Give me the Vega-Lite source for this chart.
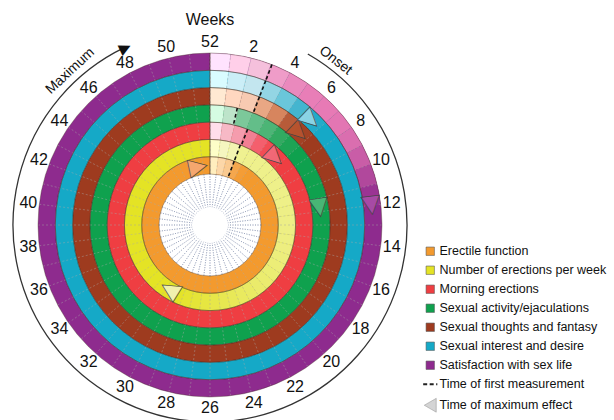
{
  "$schema": "https://vega.github.io/schema/vega-lite/v6.json",
  "width": 420,
  "height": 450,
  "padding": 0,
  "autosize": {"type": "pad"},
  "config": {"view": {"stroke": null}, "font": "Liberation Sans", "text": {"font": "Liberation Sans"}},
  "datasets": {
    "series": [
      {"s": "Erectile function", "ri": 0, "ro": 1},
      {"s": "Number of erections per week", "ri": 1, "ro": 2},
      {"s": "Morning erections", "ri": 2, "ro": 3},
      {"s": "Sexual activity/ejaculations", "ri": 3, "ro": 4},
      {"s": "Sexual thoughts and fantasy", "ri": 4, "ro": 5},
      {"s": "Sexual interest and desire", "ri": 5, "ro": 6},
      {"s": "Satisfaction with sex life", "ri": 6, "ro": 7}
    ],
    "seg": [
      {"s": "Satisfaction with sex life", "w0": 0, "w1": 1, "e": 0.06},
      {"s": "Satisfaction with sex life", "w0": 1, "w1": 2, "e": 0.15},
      {"s": "Satisfaction with sex life", "w0": 2, "w1": 3, "e": 0.22},
      {"s": "Satisfaction with sex life", "w0": 3, "w1": 4, "e": 0.42},
      {"s": "Satisfaction with sex life", "w0": 4, "w1": 5, "e": 0.52},
      {"s": "Satisfaction with sex life", "w0": 5, "w1": 6, "e": 0.58},
      {"s": "Satisfaction with sex life", "w0": 6, "w1": 7, "e": 0.6},
      {"s": "Satisfaction with sex life", "w0": 7, "w1": 8, "e": 0.62},
      {"s": "Satisfaction with sex life", "w0": 8, "w1": 9, "e": 0.66},
      {"s": "Satisfaction with sex life", "w0": 9, "w1": 10, "e": 0.74},
      {"s": "Satisfaction with sex life", "w0": 10, "w1": 11, "e": 0.85},
      {"s": "Satisfaction with sex life", "w0": 11, "w1": 12, "e": 0.95},
      {"s": "Sexual interest and desire", "w0": 0, "w1": 1, "e": 0.06},
      {"s": "Sexual interest and desire", "w0": 1, "w1": 2, "e": 0.15},
      {"s": "Sexual interest and desire", "w0": 2, "w1": 3, "e": 0.2},
      {"s": "Sexual interest and desire", "w0": 3, "w1": 4, "e": 0.45},
      {"s": "Sexual interest and desire", "w0": 4, "w1": 5, "e": 0.65},
      {"s": "Sexual interest and desire", "w0": 5, "w1": 6, "e": 0.85},
      {"s": "Sexual interest and desire", "w0": 6, "w1": 7, "e": 0.97},
      {"s": "Sexual thoughts and fantasy", "w0": 0, "w1": 1, "e": 0.06},
      {"s": "Sexual thoughts and fantasy", "w0": 1, "w1": 2, "e": 0.15},
      {"s": "Sexual thoughts and fantasy", "w0": 2, "w1": 3, "e": 0.22},
      {"s": "Sexual thoughts and fantasy", "w0": 3, "w1": 4, "e": 0.45},
      {"s": "Sexual thoughts and fantasy", "w0": 4, "w1": 5, "e": 0.65},
      {"s": "Sexual thoughts and fantasy", "w0": 5, "w1": 6, "e": 0.85},
      {"s": "Sexual thoughts and fantasy", "w0": 6, "w1": 7, "e": 0.97},
      {"s": "Sexual activity/ejaculations", "w0": 0, "w1": 1, "e": 0.06},
      {"s": "Sexual activity/ejaculations", "w0": 1, "w1": 2, "e": 0.18},
      {"s": "Sexual activity/ejaculations", "w0": 2, "w1": 3, "e": 0.5},
      {"s": "Sexual activity/ejaculations", "w0": 3, "w1": 4, "e": 0.62},
      {"s": "Sexual activity/ejaculations", "w0": 4, "w1": 5, "e": 0.75},
      {"s": "Sexual activity/ejaculations", "w0": 5, "w1": 6, "e": 0.88},
      {"s": "Sexual activity/ejaculations", "w0": 6, "w1": 7, "e": 0.96},
      {"s": "Morning erections", "w0": 0, "w1": 1, "e": 0.06},
      {"s": "Morning erections", "w0": 1, "w1": 2, "e": 0.2},
      {"s": "Morning erections", "w0": 2, "w1": 3, "e": 0.4},
      {"s": "Morning erections", "w0": 3, "w1": 4, "e": 0.6},
      {"s": "Morning erections", "w0": 4, "w1": 5, "e": 0.8},
      {"s": "Morning erections", "w0": 5, "w1": 6, "e": 0.92},
      {"s": "Morning erections", "w0": 6, "w1": 7, "e": 0.98},
      {"s": "Number of erections per week", "w0": 0, "w1": 1, "e": 0.06},
      {"s": "Number of erections per week", "w0": 1, "w1": 2, "e": 0.18},
      {"s": "Number of erections per week", "w0": 2, "w1": 3, "e": 0.3},
      {"s": "Number of erections per week", "w0": 3, "w1": 4, "e": 0.55},
      {"s": "Number of erections per week", "w0": 4, "w1": 5, "e": 0.57},
      {"s": "Number of erections per week", "w0": 5, "w1": 6, "e": 0.58},
      {"s": "Number of erections per week", "w0": 6, "w1": 7, "e": 0.59},
      {"s": "Number of erections per week", "w0": 7, "w1": 8, "e": 0.6},
      {"s": "Number of erections per week", "w0": 8, "w1": 9, "e": 0.6},
      {"s": "Number of erections per week", "w0": 9, "w1": 10, "e": 0.61},
      {"s": "Number of erections per week", "w0": 10, "w1": 11, "e": 0.61},
      {"s": "Number of erections per week", "w0": 11, "w1": 12, "e": 0.62},
      {"s": "Number of erections per week", "w0": 12, "w1": 13, "e": 0.62},
      {"s": "Number of erections per week", "w0": 13, "w1": 14, "e": 0.63},
      {"s": "Number of erections per week", "w0": 14, "w1": 15, "e": 0.64},
      {"s": "Number of erections per week", "w0": 15, "w1": 16, "e": 0.65},
      {"s": "Number of erections per week", "w0": 16, "w1": 17, "e": 0.67},
      {"s": "Number of erections per week", "w0": 17, "w1": 18, "e": 0.69},
      {"s": "Number of erections per week", "w0": 18, "w1": 19, "e": 0.71},
      {"s": "Number of erections per week", "w0": 19, "w1": 20, "e": 0.73},
      {"s": "Number of erections per week", "w0": 20, "w1": 21, "e": 0.75},
      {"s": "Number of erections per week", "w0": 21, "w1": 22, "e": 0.78},
      {"s": "Number of erections per week", "w0": 22, "w1": 23, "e": 0.8},
      {"s": "Number of erections per week", "w0": 23, "w1": 24, "e": 0.83},
      {"s": "Number of erections per week", "w0": 24, "w1": 25, "e": 0.86},
      {"s": "Number of erections per week", "w0": 25, "w1": 26, "e": 0.89},
      {"s": "Number of erections per week", "w0": 26, "w1": 27, "e": 0.92},
      {"s": "Number of erections per week", "w0": 27, "w1": 28, "e": 0.95},
      {"s": "Number of erections per week", "w0": 28, "w1": 29, "e": 0.97},
      {"s": "Number of erections per week", "w0": 29, "w1": 30, "e": 0.99},
      {"s": "Erectile function", "w0": 0, "w1": 1, "e": 0.06},
      {"s": "Erectile function", "w0": 1, "w1": 2, "e": 0.2},
      {"s": "Erectile function", "w0": 2, "w1": 3, "e": 0.35},
      {"s": "Erectile function", "w0": 3, "w1": 4, "e": 0.8},
      {"s": "Erectile function", "w0": 4, "w1": 5, "e": 0.95}
    ],
    "meas": [
      {"s": "Erectile function", "fm": 3},
      {"s": "Number of erections per week", "fm": 3},
      {"s": "Morning erections", "fm": 3.1},
      {"s": "Sexual activity/ejaculations", "fm": 1.9},
      {"s": "Sexual thoughts and fantasy", "fm": 3.05},
      {"s": "Sexual interest and desire", "fm": 3.05},
      {"s": "Satisfaction with sex life", "fm": 3.05}
    ],
    "maxe": [
      {"s": "Erectile function", "mx": 50.3},
      {"s": "Number of erections per week", "mx": 30.6},
      {"s": "Morning erections", "mx": 6.3},
      {"s": "Sexual activity/ejaculations", "mx": 11.7},
      {"s": "Sexual thoughts and fantasy", "mx": 6.3},
      {"s": "Sexual interest and desire", "mx": 6.3},
      {"s": "Satisfaction with sex life", "mx": 12.0}
    ],
    "weeks": [
      {"w": 0, "label": "52"}, {"w": 1}, {"w": 2, "label": "2"}, {"w": 3}, {"w": 4, "label": "4"}, {"w": 5},
      {"w": 6, "label": "6"}, {"w": 7}, {"w": 8, "label": "8"}, {"w": 9}, {"w": 10, "label": "10"}, {"w": 11},
      {"w": 12, "label": "12"}, {"w": 13}, {"w": 14, "label": "14"}, {"w": 15}, {"w": 16, "label": "16"}, {"w": 17},
      {"w": 18, "label": "18"}, {"w": 19}, {"w": 20, "label": "20"}, {"w": 21}, {"w": 22, "label": "22"}, {"w": 23},
      {"w": 24, "label": "24"}, {"w": 25}, {"w": 26, "label": "26"}, {"w": 27}, {"w": 28, "label": "28"}, {"w": 29},
      {"w": 30, "label": "30"}, {"w": 31}, {"w": 32, "label": "32"}, {"w": 33}, {"w": 34, "label": "34"}, {"w": 35},
      {"w": 36, "label": "36"}, {"w": 37}, {"w": 38, "label": "38"}, {"w": 39}, {"w": 40, "label": "40"}, {"w": 41},
      {"w": 42, "label": "42"}, {"w": 43}, {"w": 44, "label": "44"}, {"w": 45}, {"w": 46, "label": "46"}, {"w": 47},
      {"w": 48, "label": "48"}, {"w": 49}, {"w": 50, "label": "50"}, {"w": 51}
    ]
  },
  "resolve": {"scale": {"fill": "independent"}},
  "layer": [
    {
      "data": {"name": "weeks"},
      "mark": {"type": "arc", "filled": false, "stroke": "#8f9bb5", "strokeWidth": 0.8, "strokeDash": [1, 1.5], "strokeOpacity": 0.8},
      "encoding": {
        "theta": {"field": "w", "type": "quantitative", "stack": null, "scale": {"type": "linear", "domain": [0, 52], "range": [0, 6.283185307], "nice": false, "zero": true}},
        "theta2": {"field": "w"},
        "radius": {"value": 18},
        "radius2": {"value": 51}
      }
    },
    {
      "data": {"name": "series"},
      "mark": {"type": "arc"},
      "encoding": {
        "theta": {"datum": 0, "type": "quantitative", "stack": null, "scale": {"type": "linear", "domain": [0, 52], "range": [0, 6.283185307], "nice": false, "zero": true}},
        "theta2": {"datum": 52},
        "radius": {"field": "ri", "type": "quantitative", "scale": {"type": "linear", "domain": [0, 7], "range": [51, 172], "nice": false, "zero": false}},
        "radius2": {"field": "ro"},
        "color": {
          "field": "s", "type": "nominal",
          "scale": {
            "domain": ["Erectile function", "Number of erections per week", "Morning erections", "Sexual activity/ejaculations", "Sexual thoughts and fantasy", "Sexual interest and desire", "Satisfaction with sex life", "Time of first measurement", "Time of maximum effect"],
            "range": ["#f39a2e", "#e4e325", "#ef3e42", "#0fa14e", "#9e3b1f", "#15a9c7", "#8e2b8e", "#222222", "#d4d4d4"]
          },
          "legend": {
            "orient": "none", "legendX": 424, "legendY": 245, "title": null,
            "symbolType": "square", "symbolSize": 70, "labelFontSize": 12.5, "labelFont": "Liberation Sans",
            "labelColor": "#111111", "rowPadding": 6, "labelOffset": 3, "labelLimit": 300, "padding": 0,
            "symbolStrokeColor": "#555555", "symbolStrokeWidth": 0.6,
            "encode": {
              "symbols": {
                "update": {
                  "shape": {"signal": "datum.value === 'Time of first measurement' ? 'stroke' : datum.value === 'Time of maximum effect' ? 'triangle-left' : 'square'"},
                  "stroke": {"signal": "datum.value === 'Time of first measurement' ? '#222222' : datum.value === 'Time of maximum effect' ? '#999999' : '#555555'"},
                  "strokeDash": {"signal": "datum.value === 'Time of first measurement' ? [4, 2.5] : [1, 0]"},
                  "strokeWidth": {"signal": "datum.value === 'Time of first measurement' ? 1.8 : 0.6"},
                  "size": {"signal": "datum.value === 'Time of maximum effect' ? 190 : datum.value === 'Time of first measurement' ? 200 : 70"}
                }
              }
            }
          }
        }
      }
    },
    {
      "data": {"name": "seg"},
      "transform": [{"filter": "datum.s === 'Satisfaction with sex life'"}, {"lookup": "s", "from": {"data": {"name": "series"}, "key": "s", "fields": ["ri", "ro"]}}],
      "mark": {"type": "arc"},
      "encoding": {
        "theta": {"field": "w0", "type": "quantitative", "stack": null, "scale": {"type": "linear", "domain": [0, 52], "range": [0, 6.283185307], "nice": false, "zero": true}},
        "theta2": {"field": "w1"},
        "radius": {"field": "ri", "type": "quantitative", "scale": {"type": "linear", "domain": [0, 7], "range": [51, 172], "nice": false, "zero": false}},
        "radius2": {"field": "ro"},
        "fill": {"field": "e", "type": "quantitative", "legend": null, "scale": {"domain": [0, 0.2, 0.6, 1], "range": ["#ffffff", "#f6c4de", "#e77ab5", "#8e2b8e"]}}
      }
    },
    {
      "data": {"name": "seg"},
      "transform": [{"filter": "datum.s === 'Sexual interest and desire'"}, {"lookup": "s", "from": {"data": {"name": "series"}, "key": "s", "fields": ["ri", "ro"]}}],
      "mark": {"type": "arc"},
      "encoding": {
        "theta": {"field": "w0", "type": "quantitative", "stack": null, "scale": {"type": "linear", "domain": [0, 52], "range": [0, 6.283185307], "nice": false, "zero": true}},
        "theta2": {"field": "w1"},
        "radius": {"field": "ri", "type": "quantitative", "scale": {"type": "linear", "domain": [0, 7], "range": [51, 172], "nice": false, "zero": false}},
        "radius2": {"field": "ro"},
        "fill": {"field": "e", "type": "quantitative", "legend": null, "scale": {"domain": [0, 0.2, 0.6, 1], "range": ["#ffffff", "#c3e6ef", "#72cadd", "#15a9c7"]}}
      }
    },
    {
      "data": {"name": "seg"},
      "transform": [{"filter": "datum.s === 'Sexual thoughts and fantasy'"}, {"lookup": "s", "from": {"data": {"name": "series"}, "key": "s", "fields": ["ri", "ro"]}}],
      "mark": {"type": "arc"},
      "encoding": {
        "theta": {"field": "w0", "type": "quantitative", "stack": null, "scale": {"type": "linear", "domain": [0, 52], "range": [0, 6.283185307], "nice": false, "zero": true}},
        "theta2": {"field": "w1"},
        "radius": {"field": "ri", "type": "quantitative", "scale": {"type": "linear", "domain": [0, 7], "range": [51, 172], "nice": false, "zero": false}},
        "radius2": {"field": "ro"},
        "fill": {"field": "e", "type": "quantitative", "legend": null, "scale": {"domain": [0, 0.2, 0.6, 1], "range": ["#ffffff", "#f8cdb6", "#df9068", "#9e3b1f"]}}
      }
    },
    {
      "data": {"name": "seg"},
      "transform": [{"filter": "datum.s === 'Sexual activity/ejaculations'"}, {"lookup": "s", "from": {"data": {"name": "series"}, "key": "s", "fields": ["ri", "ro"]}}],
      "mark": {"type": "arc"},
      "encoding": {
        "theta": {"field": "w0", "type": "quantitative", "stack": null, "scale": {"type": "linear", "domain": [0, 52], "range": [0, 6.283185307], "nice": false, "zero": true}},
        "theta2": {"field": "w1"},
        "radius": {"field": "ri", "type": "quantitative", "scale": {"type": "linear", "domain": [0, 7], "range": [51, 172], "nice": false, "zero": false}},
        "radius2": {"field": "ro"},
        "fill": {"field": "e", "type": "quantitative", "legend": null, "scale": {"domain": [0, 0.2, 0.6, 1], "range": ["#ffffff", "#b9e0c6", "#66c08c", "#0fa14e"]}}
      }
    },
    {
      "data": {"name": "seg"},
      "transform": [{"filter": "datum.s === 'Morning erections'"}, {"lookup": "s", "from": {"data": {"name": "series"}, "key": "s", "fields": ["ri", "ro"]}}],
      "mark": {"type": "arc"},
      "encoding": {
        "theta": {"field": "w0", "type": "quantitative", "stack": null, "scale": {"type": "linear", "domain": [0, 52], "range": [0, 6.283185307], "nice": false, "zero": true}},
        "theta2": {"field": "w1"},
        "radius": {"field": "ri", "type": "quantitative", "scale": {"type": "linear", "domain": [0, 7], "range": [51, 172], "nice": false, "zero": false}},
        "radius2": {"field": "ro"},
        "fill": {"field": "e", "type": "quantitative", "legend": null, "scale": {"domain": [0, 0.2, 0.6, 1], "range": ["#ffffff", "#f7b9c6", "#f27f93", "#ef3e42"]}}
      }
    },
    {
      "data": {"name": "seg"},
      "transform": [{"filter": "datum.s === 'Number of erections per week'"}, {"lookup": "s", "from": {"data": {"name": "series"}, "key": "s", "fields": ["ri", "ro"]}}],
      "mark": {"type": "arc"},
      "encoding": {
        "theta": {"field": "w0", "type": "quantitative", "stack": null, "scale": {"type": "linear", "domain": [0, 52], "range": [0, 6.283185307], "nice": false, "zero": true}},
        "theta2": {"field": "w1"},
        "radius": {"field": "ri", "type": "quantitative", "scale": {"type": "linear", "domain": [0, 7], "range": [51, 172], "nice": false, "zero": false}},
        "radius2": {"field": "ro"},
        "fill": {"field": "e", "type": "quantitative", "legend": null, "scale": {"domain": [0, 0.2, 0.6, 1], "range": ["#ffffff", "#f4f5bf", "#eef08a", "#e4e325"]}}
      }
    },
    {
      "data": {"name": "seg"},
      "transform": [{"filter": "datum.s === 'Erectile function'"}, {"lookup": "s", "from": {"data": {"name": "series"}, "key": "s", "fields": ["ri", "ro"]}}],
      "mark": {"type": "arc"},
      "encoding": {
        "theta": {"field": "w0", "type": "quantitative", "stack": null, "scale": {"type": "linear", "domain": [0, 52], "range": [0, 6.283185307], "nice": false, "zero": true}},
        "theta2": {"field": "w1"},
        "radius": {"field": "ri", "type": "quantitative", "scale": {"type": "linear", "domain": [0, 7], "range": [51, 172], "nice": false, "zero": false}},
        "radius2": {"field": "ro"},
        "fill": {"field": "e", "type": "quantitative", "legend": null, "scale": {"domain": [0, 0.2, 0.6, 1], "range": ["#ffffff", "#fcd7a8", "#f7b469", "#f39a2e"]}}
      }
    },
    {
      "data": {"name": "weeks"},
      "mark": {"type": "arc", "filled": false, "stroke": "#aaaaaa", "strokeWidth": 0.7, "strokeDash": [2, 2], "strokeOpacity": 0.35},
      "encoding": {
        "theta": {"field": "w", "type": "quantitative", "stack": null, "scale": {"type": "linear", "domain": [0, 52], "range": [0, 6.283185307], "nice": false, "zero": true}},
        "theta2": {"field": "w"},
        "radius": {"datum": 0, "type": "quantitative", "scale": {"type": "linear", "domain": [0, 7], "range": [51, 172], "nice": false, "zero": false}},
        "radius2": {"datum": 7}
      }
    },
    {
      "data": {"name": "series"},
      "mark": {"type": "arc", "filled": false, "stroke": "#3d2b1f", "strokeWidth": 0.6, "strokeOpacity": 0.6},
      "encoding": {
        "theta": {"datum": 0, "type": "quantitative", "stack": null, "scale": {"type": "linear", "domain": [0, 52], "range": [0, 6.283185307], "nice": false, "zero": true}},
        "theta2": {"datum": 52},
        "radius": {"field": "ri", "type": "quantitative", "scale": {"type": "linear", "domain": [0, 7], "range": [51, 172], "nice": false, "zero": false}},
        "radius2": {"field": "ro"}
      }
    },
    {
      "data": {"name": "meas"},
      "transform": [{"lookup": "s", "from": {"data": {"name": "series"}, "key": "s", "fields": ["ri", "ro"]}}],
      "mark": {"type": "arc", "filled": false, "stroke": "#111111", "strokeWidth": 1.6, "strokeDash": [3.57, 2.63]},
      "encoding": {
        "theta": {"field": "fm", "type": "quantitative", "stack": null, "scale": {"type": "linear", "domain": [0, 52], "range": [0, 6.283185307], "nice": false, "zero": true}},
        "theta2": {"field": "fm"},
        "radius": {"field": "ri", "type": "quantitative", "scale": {"type": "linear", "domain": [0, 7], "range": [51, 172], "nice": false, "zero": false}},
        "radius2": {"field": "ro"}
      }
    },
    {
      "data": {"name": "maxe"},
      "transform": [{"lookup": "s", "from": {"data": {"name": "series"}, "key": "s", "fields": ["ri", "ro"]}}],
      "mark": {"type": "text", "text": "▶", "font": "DejaVu Sans", "fontSize": 24, "align": "center", "baseline": "middle", "radiusOffset": 8.64, "stroke": "#444444", "strokeWidth": 0.7, "opacity": 0.95},
      "encoding": {
        "theta": {"field": "mx", "type": "quantitative", "stack": null, "scale": {"type": "linear", "domain": [0, 52], "range": [0, 6.283185307], "nice": false, "zero": true}},
        "radius": {"field": "ri", "type": "quantitative", "scale": {"type": "linear", "domain": [0, 7], "range": [51, 172], "nice": false, "zero": false}},
        "angle": {"field": "mx", "type": "quantitative", "scale": {"type": "linear", "domain": [0, 52], "range": [0, 360], "nice": false, "zero": true}},
        "fill": {
          "field": "s", "type": "nominal", "legend": null,
          "scale": {
            "domain": ["Erectile function", "Number of erections per week", "Morning erections", "Sexual activity/ejaculations", "Sexual thoughts and fantasy", "Sexual interest and desire", "Satisfaction with sex life"],
            "range": ["#f6a872", "#f1f2b5", "#f26a78", "#4cb878", "#b8532e", "#8fd6e6", "#a84ca6"]
          }
        }
      }
    },
    {
      "data": {"name": "weeks"},
      "transform": [{"filter": "isValid(datum.label)"}],
      "mark": {"type": "text", "fontSize": 16, "color": "#111111", "align": "center", "baseline": "middle"},
      "encoding": {
        "theta": {"field": "w", "type": "quantitative", "stack": null, "scale": {"type": "linear", "domain": [0, 52], "range": [0, 6.283185307], "nice": false, "zero": true}},
        "radius": {"value": 183},
        "text": {"field": "label", "type": "nominal"}
      }
    },
    {
      "data": {"values": [{"a": 4.3, "b": 48.3}]},
      "mark": {"type": "arc", "filled": false, "stroke": "#333333", "strokeWidth": 1.3},
      "encoding": {
        "theta": {"field": "a", "type": "quantitative", "stack": null, "scale": {"type": "linear", "domain": [0, 52], "range": [0, 6.283185307], "nice": false, "zero": true}},
        "theta2": {"field": "b"},
        "radius": {"value": 197},
        "radius2": {"value": 197}
      }
    },
    {
      "data": {"values": [{"w": 48.3}]},
      "mark": {"type": "text", "text": "▶", "font": "DejaVu Sans", "fontSize": 15, "color": "#111111", "align": "center", "baseline": "middle"},
      "encoding": {
        "theta": {"field": "w", "type": "quantitative", "stack": null, "scale": {"type": "linear", "domain": [0, 52], "range": [0, 6.283185307], "nice": false, "zero": true}},
        "radius": {"value": 197},
        "angle": {"field": "w", "type": "quantitative", "scale": {"type": "linear", "domain": [0, 52], "range": [0, 360], "nice": false, "zero": true}}
      }
    },
    {
      "data": {"values": [{"t": "Weeks", "w": 0}]},
      "mark": {"type": "text", "fontSize": 16, "color": "#111111", "align": "center", "baseline": "middle"},
      "encoding": {
        "theta": {"field": "w", "type": "quantitative", "stack": null, "scale": {"type": "linear", "domain": [0, 52], "range": [0, 6.283185307], "nice": false, "zero": true}},
        "radius": {"value": 205},
        "text": {"field": "t", "type": "nominal"}
      }
    },
    {
      "data": {"values": [{"t": "Onset", "w": 5.4}]},
      "mark": {"type": "text", "fontSize": 14, "color": "#111111", "align": "center", "baseline": "middle", "angle": 38},
      "encoding": {
        "theta": {"field": "w", "type": "quantitative", "stack": null, "scale": {"type": "linear", "domain": [0, 52], "range": [0, 6.283185307], "nice": false, "zero": true}},
        "radius": {"value": 207},
        "text": {"field": "t", "type": "nominal"}
      }
    },
    {
      "data": {"values": [{"t": "Maximum", "w": 45.9}]},
      "mark": {"type": "text", "fontSize": 14, "color": "#111111", "align": "center", "baseline": "middle", "angle": -43},
      "encoding": {
        "theta": {"field": "w", "type": "quantitative", "stack": null, "scale": {"type": "linear", "domain": [0, 52], "range": [0, 6.283185307], "nice": false, "zero": true}},
        "radius": {"value": 208},
        "text": {"field": "t", "type": "nominal"}
      }
    }
  ]
}
